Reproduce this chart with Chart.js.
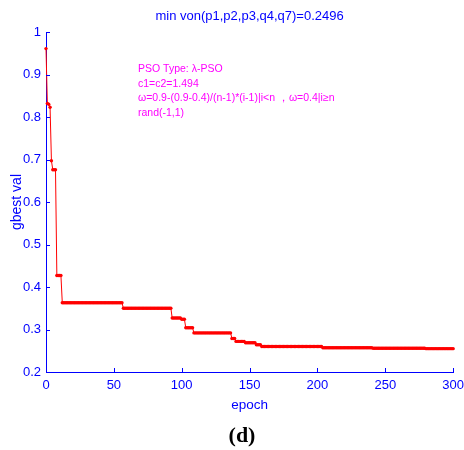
<!DOCTYPE html>
<html>
<head>
<meta charset="utf-8">
<script src="https://cdn.jsdelivr.net/npm/chart.js@4/dist/chart.umd.min.js"></script>
<style>
  body { margin: 0; overflow: hidden; background: #fff; }
  #wrap { width: 470px; height: 450px; }
</style>
</head>
<body>
<div id="wrap"><canvas id="gbestChart"></canvas></div>
<script>
const titleText = 'min von(p1,p2,p3,q4,q7)=0.2496'
const noteLines = ['PSO Type: λ-PSO', 'c1=c2=1.494', 'ω=0.9-(0.9-0.4)/(n-1)*(i-1)|i<n ，ω=0.4|i≥n', 'rand(-1,1)']
const panelLabel = '(d)'
const xTicks = [0, 50, 100, 150, 200, 250, 300]
const yTicks = [0.2, 0.3, 0.4, 0.5, 0.6, 0.7, 0.8, 0.9, 1]

// gbest value per epoch, 0..300
const gbestVal = [
  0.961, 0.832, 0.830, 0.823, 0.697, 0.676, 0.676, 0.676, 0.427, 0.427,
  0.427, 0.427, 0.363, 0.363, 0.363, 0.363, 0.363, 0.363, 0.363, 0.363,
  0.363, 0.363, 0.363, 0.363, 0.363, 0.363, 0.363, 0.363, 0.363, 0.363,
  0.363, 0.363, 0.363, 0.363, 0.363, 0.363, 0.363, 0.363, 0.363, 0.363,
  0.363, 0.363, 0.363, 0.363, 0.363, 0.363, 0.363, 0.363, 0.363, 0.363,
  0.363, 0.363, 0.363, 0.363, 0.363, 0.363, 0.363, 0.350, 0.350, 0.350,
  0.350, 0.350, 0.350, 0.350, 0.350, 0.350, 0.350, 0.350, 0.350, 0.350,
  0.350, 0.350, 0.350, 0.350, 0.350, 0.350, 0.350, 0.350, 0.350, 0.350,
  0.350, 0.350, 0.350, 0.350, 0.350, 0.350, 0.350, 0.350, 0.350, 0.350,
  0.350, 0.350, 0.350, 0.327, 0.327, 0.327, 0.327, 0.327, 0.327, 0.327,
  0.324, 0.324, 0.324, 0.304, 0.304, 0.304, 0.304, 0.304, 0.304, 0.292,
  0.292, 0.292, 0.292, 0.292, 0.292, 0.292, 0.292, 0.292, 0.292, 0.292,
  0.292, 0.292, 0.292, 0.292, 0.292, 0.292, 0.292, 0.292, 0.292, 0.292,
  0.292, 0.292, 0.292, 0.292, 0.292, 0.292, 0.292, 0.279, 0.279, 0.279,
  0.272, 0.272, 0.272, 0.272, 0.272, 0.272, 0.272, 0.269, 0.269, 0.269,
  0.269, 0.269, 0.269, 0.269, 0.269, 0.264, 0.264, 0.264, 0.264, 0.260,
  0.260, 0.260, 0.260, 0.260, 0.260, 0.260, 0.260, 0.260, 0.260, 0.260,
  0.260, 0.260, 0.260, 0.260, 0.260, 0.260, 0.260, 0.260, 0.260, 0.260,
  0.260, 0.260, 0.260, 0.260, 0.260, 0.260, 0.260, 0.260, 0.260, 0.260,
  0.260, 0.260, 0.260, 0.260, 0.260, 0.260, 0.260, 0.260, 0.260, 0.260,
  0.260, 0.260, 0.260, 0.260, 0.257, 0.257, 0.257, 0.257, 0.257, 0.257,
  0.257, 0.257, 0.257, 0.257, 0.257, 0.257, 0.257, 0.257, 0.257, 0.257,
  0.257, 0.257, 0.257, 0.257, 0.257, 0.257, 0.257, 0.257, 0.257, 0.257,
  0.257, 0.257, 0.257, 0.257, 0.257, 0.257, 0.257, 0.257, 0.257, 0.257,
  0.257, 0.256, 0.256, 0.256, 0.256, 0.256, 0.256, 0.256, 0.256, 0.256,
  0.256, 0.256, 0.256, 0.256, 0.256, 0.256, 0.256, 0.256, 0.256, 0.256,
  0.256, 0.256, 0.256, 0.256, 0.256, 0.256, 0.256, 0.256, 0.256, 0.256,
  0.256, 0.256, 0.256, 0.256, 0.256, 0.256, 0.256, 0.256, 0.256, 0.256,
  0.255, 0.255, 0.255, 0.255, 0.255, 0.255, 0.255, 0.255, 0.255, 0.255,
  0.255, 0.255, 0.255, 0.255, 0.255, 0.255, 0.255, 0.255, 0.255, 0.255,
  0.255,
]

const blue = '#0000ff'
const magenta = '#ff00ff'
const sans = "'Liberation Sans', Arial, sans-serif"

// inward tick marks + free text (title, note, panel label)
const extras = {
  id: 'extras',
  afterDraw(chart) {
    const ctx = chart.ctx
    const area = chart.chartArea
    const xs = chart.scales.x
    const ys = chart.scales.y
    ctx.save()
    ctx.strokeStyle = blue
    ctx.lineWidth = 1
    ctx.beginPath()
    xTicks.forEach(t => {
      const px = Math.round(xs.getPixelForValue(t)) + 0.5
      ctx.moveTo(px, area.bottom)
      ctx.lineTo(px, area.bottom - 4)
    })
    yTicks.forEach(t => {
      const py = Math.round(ys.getPixelForValue(t)) + 0.5
      ctx.moveTo(area.left, py)
      ctx.lineTo(area.left + 4, py)
    })
    ctx.stroke()

    ctx.textBaseline = 'middle'
    ctx.fillStyle = blue
    ctx.textAlign = 'center'
    ctx.font = '13px ' + sans
    ctx.fillText(titleText, (area.left + area.right) / 2, 16)

    ctx.fillStyle = magenta
    ctx.textAlign = 'left'
    ctx.font = '10.5px ' + sans
    noteLines.forEach((line, i) => ctx.fillText(line, 138, 69 + i * 14.7))

    ctx.fillStyle = '#000'
    ctx.textAlign = 'center'
    ctx.font = "bold 22px 'Liberation Serif', 'Times New Roman', serif"
    ctx.fillText(panelLabel, 242, 436)
    ctx.restore()
  },
}

new Chart(document.getElementById('gbestChart'), {
  type: 'line',
  data: {
    datasets: [
      {
        data: gbestVal.map((v, i) => ({ x: i, y: v })),
        borderColor: '#ff0000',
        backgroundColor: '#ff0000',
        borderWidth: 1,
        pointRadius: 1.7,
        pointBorderWidth: 0,
        pointHoverRadius: 1.7,
        tension: 0,
        clip: 4,
      },
    ],
  },
  options: {
    responsive: true,
    maintainAspectRatio: false,
    animation: false,
    events: [],
    layout: { padding: { top: 32, right: 16, bottom: 0, left: 0 } },
    plugins: {
      legend: { display: false },
      tooltip: { enabled: false },
    },
    scales: {
      x: {
        type: 'linear',
        min: 0,
        max: 300,
        afterFit: s => { s.height = 78 },
        afterBuildTicks: s => { s.ticks = xTicks.map(v => ({ value: v })) },
        grid: { display: false, drawTicks: false },
        border: { color: blue, width: 1 },
        ticks: { color: blue, font: { family: sans, size: 13 }, padding: 6, maxRotation: 0 },
        title: { display: true, text: 'epoch', color: blue, font: { family: sans, size: 13.5 }, padding: { top: 0, bottom: 37 } },
      },
      y: {
        min: 0.2,
        max: 1,
        afterFit: s => { s.width = 46 },
        afterBuildTicks: s => { s.ticks = yTicks.map(v => ({ value: v })) },
        grid: { display: false, drawTicks: false },
        border: { color: blue, width: 1 },
        ticks: { color: blue, font: { family: sans, size: 13 }, padding: 5, callback: v => String(+v.toFixed(1)) },
        title: { display: true, text: 'gbest val', color: blue, font: { family: sans, size: 14 }, padding: { top: 9, bottom: 0 } },
      },
    },
  },
  plugins: [extras],
})
</script>
</body>
</html>
